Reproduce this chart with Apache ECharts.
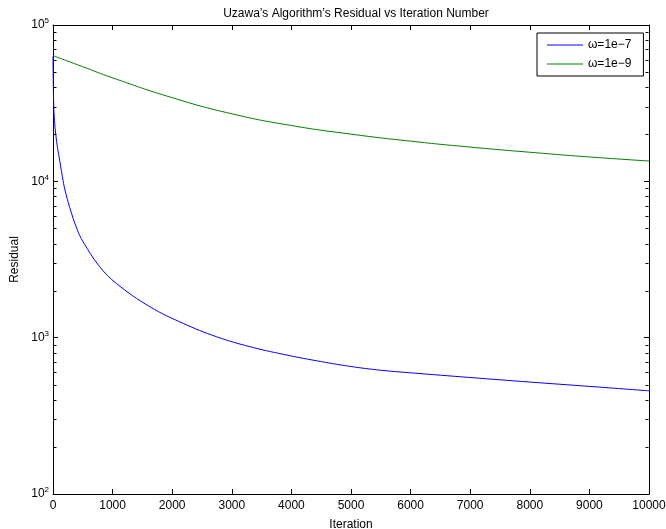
<!DOCTYPE html>
<html><head><meta charset="utf-8">
<script src="https://cdn.jsdelivr.net/npm/echarts@6/dist/echarts.min.js"></script>
<style>html,body{margin:0;padding:0;background:#fff}#c{width:666px;height:529px}</style>
</head><body><div id="c"></div>
<script>
const titleText = "Uzawa’s Algorithm’s Residual vs Iteration Number";
const seriesNames = ['ω=1e−7', 'ω=1e−9'];
const blueIter = [0, 5, 10, 20, 40, 70, 100, 158, 200, 281, 400, 504, 785, 1065, 1626, 2185, 2746, 3306, 3866, 4427, 4987, 5500, 6000, 7000, 8000, 9000, 10000];
const blueVal  = [63000, 42000, 33000, 26000, 21000, 17000, 14500, 10700, 8830, 6800, 4980, 4110, 2840, 2220, 1577, 1234, 1013, 875, 782, 711, 655, 619, 596, 556, 520, 488, 457];
const greenIter = [0, 500, 1000, 2000, 3000, 4000, 5000, 6000, 7000, 8000, 9000, 10000];
const greenVal  = [63680, 54080, 45920, 34280, 27040, 22750, 20040, 18070, 16560, 15350, 14320, 13490];
const xMin = 0, xMax = 10000, xStep = 1000;
const yMin = 100, yMax = 100000;
const minorDecades = [100, 1000, 10000];
const minorMults = [2, 3, 4, 5, 6, 7, 8, 9];

const minorData = [];
minorDecades.forEach(d => minorMults.forEach(m => minorData.push([xMin, d * m])));

const font = 'Liberation Sans, Arial, Helvetica, sans-serif';
const chart = echarts.init(document.getElementById('c'), null, {renderer: 'canvas'});

const yLabel = {
  show: true, margin: 4, color: '#000', fontFamily: font,
  formatter: v => '{b|10}{s|' + Math.round(Math.log10(v)) + '}',
  rich: {
    b: {fontSize: 12, fontFamily: font, color: '#000'},
    s: {fontSize: 8, fontFamily: font, color: '#000', padding: [0, 0, 8, 0]}
  }
};

chart.setOption({
  animation: false,
  backgroundColor: '#fff',
  title: {
    text: titleText, left: 351, top: 3, textAlign: 'center',
    textStyle: {fontSize: 12, fontWeight: 'normal', fontFamily: font, color: '#000'}
  },
  legend: {
    data: seriesNames, orient: 'vertical', left: 537, top: 33,
    backgroundColor: '#fff', borderColor: '#000', borderWidth: 1,
    padding: [5, 12, 5, 10], itemGap: 5, itemWidth: 36, itemHeight: 1, icon: 'rect',
    textStyle: {fontSize: 12, fontFamily: font, color: '#000', lineHeight: 14}
  },
  grid: {left: 53, right: 17, top: 25, bottom: 35, containLabel: false, outerBoundsMode: 'none'},
  xAxis: [{
    type: 'value', min: xMin, max: xMax, interval: xStep,
    name: 'Iteration', nameLocation: 'middle', nameGap: 25,
    nameTextStyle: {fontSize: 12, fontFamily: font, color: '#000'},
    axisLine: {show: true, lineStyle: {color: '#000', width: 1}},
    axisTick: {show: true, inside: true, length: 5, lineStyle: {color: '#000'}},
    axisLabel: {show: true, margin: 6, fontSize: 12, fontFamily: font, color: '#000', formatter: v => String(v)},
    splitLine: {show: false}
  }, {
    type: 'value', min: xMin, max: xMax, interval: xStep, position: 'top',
    axisLine: {show: true, onZero: false, lineStyle: {color: '#000', width: 1}},
    axisTick: {show: true, inside: true, length: 5, lineStyle: {color: '#000'}},
    axisLabel: {show: false}, splitLine: {show: false}
  }],
  yAxis: [{
    type: 'log', logBase: 10, min: yMin, max: yMax,
    name: 'Residual', nameLocation: 'middle', nameGap: 30, nameRotate: 90,
    nameTextStyle: {fontSize: 12, fontFamily: font, color: '#000'},
    axisLine: {show: true, lineStyle: {color: '#000', width: 1}},
    axisTick: {show: true, inside: true, length: 5, lineStyle: {color: '#000'}},
    axisLabel: yLabel, splitLine: {show: false}
  }, {
    type: 'log', logBase: 10, min: yMin, max: yMax, position: 'right',
    axisLine: {show: true, onZero: false, lineStyle: {color: '#000', width: 1}},
    axisTick: {show: true, inside: true, length: 5, lineStyle: {color: '#000'}},
    axisLabel: {show: false}, splitLine: {show: false}
  }],
  series: [{
    name: seriesNames[0], type: 'line', xAxisIndex: 0, yAxisIndex: 0,
    data: blueIter.map((x, i) => [x, blueVal[i]]),
    showSymbol: false, symbol: 'none', smooth: 0.4,
    lineStyle: {color: '#0000ff', width: 1}, itemStyle: {color: '#0000ff'}
  }, {
    name: seriesNames[1], type: 'line', xAxisIndex: 0, yAxisIndex: 0,
    data: greenIter.map((x, i) => [x, greenVal[i]]),
    showSymbol: false, symbol: 'none', smooth: 0.5,
    lineStyle: {color: '#008000', width: 1}, itemStyle: {color: '#008000'}
  }, {
    type: 'custom', xAxisIndex: 0, yAxisIndex: 0, silent: true, clip: false,
    data: minorData,
    renderItem: (params, api) => {
      const v = api.value(1);
      const pl = api.coord([xMin, v]);
      const pr = api.coord([xMax, v]);
      const y = Math.round(pl[1]) + 0.5;
      const xl = Math.round(pl[0]) + 0.5, xr = Math.round(pr[0]) - 0.5;
      return {type: 'group', children: [
        {type: 'line', shape: {x1: xl, y1: y, x2: xl + 3, y2: y}, style: {stroke: '#000', lineWidth: 1}},
        {type: 'line', shape: {x1: xr - 3, y1: y, x2: xr, y2: y}, style: {stroke: '#000', lineWidth: 1}}
      ]};
    }
  }]
});
</script></body></html>
